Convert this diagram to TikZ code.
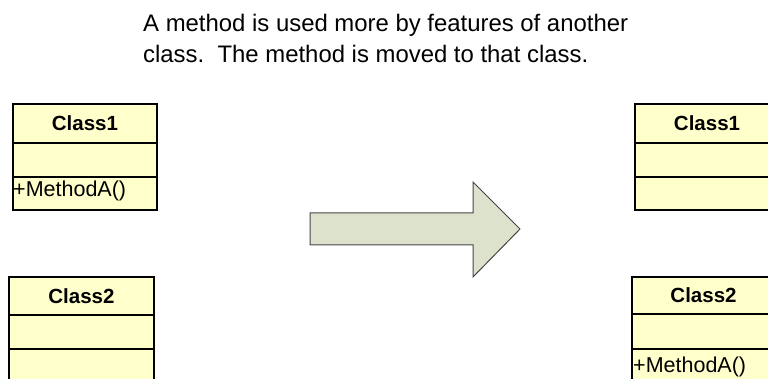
\documentclass[tikz,border=0pt]{standalone}
\usepackage{fontspec}
\setmainfont{Liberation Sans}
\definecolor{classfill}{RGB}{255,255,204}
\definecolor{arrowfill}{RGB}{221,226,204}
\definecolor{arrowline}{RGB}{70,70,70}
\begin{document}
\begin{tikzpicture}[x=1pt,y=-1pt,
  cell/.style={draw=black, line width=1.3pt, fill=classfill, inner sep=0pt, outer sep=0pt},
  cname/.style={cell, font=\fontsize{20.5}{24}\selectfont\bfseries},
  mtext/.style={inner sep=0pt, anchor=base west, font=\fontsize{21.5}{25}\selectfont},
  ttext/.style={inner sep=0pt, anchor=base west, font=\fontsize{23.9}{30}\selectfont},
  bigarrow/.style={draw=arrowline, line width=1pt, fill=arrowfill, line join=miter}]
\useasboundingbox (0,0) rectangle (768,379);
\clip (0,0) rectangle (768,379);

% heading
\node[ttext] (t1) at (143,32) {A method is used more by features of another};
\node[ttext] (t2) at (143,63) {class.\ \ The method is moved to that class.};

% left: Class1 holding MethodA
\node[cname, minimum width=144pt, minimum height=39pt] (a1h) at (85,123.5) {Class1};
\node[cell, minimum width=144pt, minimum height=34pt] (a1f) at (85,160) {};
\node[cell, minimum width=144pt, minimum height=33pt] (a1m) at (85,193.5) {};
\node[mtext] (a1t) at (13,197) {+MethodA()};

% left: Class2
\node[cname, minimum width=145pt, minimum height=38pt] (a2h) at (81.5,296) {Class2};
\node[cell, minimum width=145pt, minimum height=34pt] (a2f) at (81.5,332) {};
\node[cell, minimum width=145pt, minimum height=34pt] (a2m) at (81.5,366) {};

% refactoring arrow
\draw[bigarrow] (310,213) -- (473,213) -- (473,182) -- (520,229) -- (473,277)
  -- (473,245) -- (310,245) -- cycle;

% right: Class1
\node[cname, minimum width=144pt, minimum height=39pt] (b1h) at (707,123.5) {Class1};
\node[cell, minimum width=144pt, minimum height=34pt] (b1f) at (707,160) {};
\node[cell, minimum width=144pt, minimum height=33pt] (b1m) at (707,193.5) {};

% right: Class2 now holding MethodA
\node[cname, minimum width=143pt, minimum height=37pt] (b2h) at (703.5,295.5) {Class2};
\node[cell, minimum width=143pt, minimum height=35pt] (b2f) at (703.5,331.5) {};
\node[cell, minimum width=143pt, minimum height=34pt] (b2m) at (703.5,366) {};
\node[mtext] (b2t) at (633,372) {+MethodA()};
\end{tikzpicture}
\end{document}
